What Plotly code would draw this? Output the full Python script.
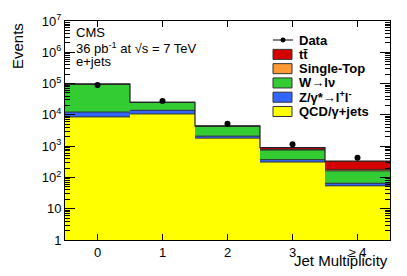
import plotly.graph_objects as go

# ---- data ----
categories = [0, 1, 2, 3, 4]
tick_labels = ["0", "1", "2", "3", "≥ 4"]
qcd = [8600, 10700, 1800, 310, 54]
zll = [3700, 3300, 290, 60, 11]
wlnu = [83700, 11000, 2200, 380, 97]
single_top = [50, 200, 70, 30, 15]
ttbar = [20, 100, 90, 120, 155]
data = [90000, 27500, 5200, 1150, 425]

legend_names = ["Data", "tt̄", "Single-Top", "W→lν", "Z/γ*→l<sup>+</sup>l<sup>-</sup>", "QCD/γ+jets"]
components = [
    ("QCD/γ+jets", qcd, "#ffff00"),
    ("Z/γ*→l+l-", zll, "#3366ff"),
    ("W→lν", wlnu, "#33cc33"),
    ("Single-Top", single_top, "#ff9933"),
    ("tt", ttbar, "#d40000"),
]

FONT = "Liberation Sans, Arial, Helvetica, sans-serif"
W, H = 407, 276
ML, MR, MT, MB = 65, 17, 13, 36
PW, PH = W - ML - MR, H - MT - MB


def px(x):
    return (x - ML) / PW


def py(y):
    return (H - MB - y) / PH


fig = go.Figure()

for name, vals, col in components:
    fig.add_trace(go.Bar(
        x=categories, y=vals, name=name, marker=dict(color=col, line=dict(width=0)),
        width=1.0, showlegend=False,
    ))

# outline segments at each cumulative level
cum = [0] * len(categories)
seg_x, seg_y = [], []
levels = []
for name, vals, col in components:
    cum = [a + b for a, b in zip(cum, vals)]
    levels.append(cum)
for lev in levels[:-1]:
    for c, v in zip(categories, lev):
        seg_x += [c - 0.5, c + 0.5, None]
        seg_y += [v, v, None]
fig.add_trace(go.Scatter(x=seg_x, y=seg_y, mode="lines", line=dict(color="#333333", width=1),
                         showlegend=False, hoverinfo="skip"))
top = levels[-1]
edges = [c - 0.5 for c in categories] + [categories[-1] + 0.5]
fig.add_trace(go.Scatter(x=edges, y=top + [top[-1]], mode="lines", line_shape="hv",
                         line=dict(color="#222222", width=1.2), showlegend=False, hoverinfo="skip"))

fig.add_trace(go.Scatter(x=categories, y=data, mode="markers",
                         marker=dict(color="black", size=6), showlegend=False))

# manual legend
row_y = [32.7, 47.6, 62.4, 77.2, 92.0, 106.8]
legend_cols = [None, "#d40000", "#ff9933", "#33cc33", "#3366ff", "#ffff00"]
shapes = []
annotations = []
for i, (nm, col) in enumerate(zip(legend_names, legend_cols)):
    yc = row_y[i]
    if col is None:
        shapes.append(dict(type="line", xref="paper", yref="paper", x0=px(273), x1=px(293),
                           y0=py(yc), y1=py(yc), line=dict(color="black", width=1)))
        shapes.append(dict(type="circle", xref="paper", yref="paper", x0=px(280.5), x1=px(285.5),
                           y0=py(yc + 2.5), y1=py(yc - 2.5), fillcolor="black", line=dict(width=0)))
    else:
        shapes.append(dict(type="rect", xref="paper", yref="paper", x0=px(273), x1=px(292),
                           y0=py(yc + 5.2), y1=py(yc - 5.2), fillcolor=col,
                           line=dict(color="#333333", width=1)))
    annotations.append(dict(x=px(296.5), y=py(yc), xref="paper", yref="paper", text="<b>%s</b>" % nm,
                            showarrow=False, xanchor="left", yanchor="middle",
                            font=dict(family=FONT, size=13, color="black")))

for txt, yc in [("CMS", 25), ("36 pb<sup>-1</sup> at √s = 7 TeV", 40.5), ("e+jets", 55)]:
    annotations.append(dict(x=px(74), y=py(yc), xref="paper", yref="paper", text=txt,
                            showarrow=False, xanchor="left", yanchor="middle",
                            font=dict(family=FONT, size=13, color="black")))

annotations.append(dict(x=px(390), y=py(261), xref="paper", yref="paper", text="Jet Multiplicity",
                        showarrow=False, xanchor="right", yanchor="middle",
                        font=dict(family=FONT, size=15, color="black")))
annotations.append(dict(x=px(17), y=py(13), xref="paper", yref="paper", text="Events",
                        showarrow=False, xanchor="center", yanchor="top", textangle=-90,
                        font=dict(family=FONT, size=15, color="black")))

ytick_vals = [10 ** n for n in range(8)]
ytick_text = ["1", "10"] + ["10<sup>%d</sup>" % n for n in range(2, 8)]
minor_vals = [k * 10 ** n for n in range(7) for k in range(2, 10)]

fig.update_layout(
    width=W, height=H,
    margin=dict(l=ML, r=MR, t=MT, b=MB),
    paper_bgcolor="white", plot_bgcolor="white",
    barmode="stack", bargap=0,
    font=dict(family=FONT, size=13, color="black"),
    shapes=shapes, annotations=annotations,
    xaxis=dict(range=[-0.5, 4.5], tickvals=categories, ticktext=tick_labels,
               ticks="inside", ticklen=6, tickcolor="black", showline=True, linecolor="black",
               linewidth=1, mirror="ticks", showgrid=False, zeroline=False,
               tickfont=dict(family=FONT, size=13)),
    yaxis=dict(type="log", range=[0, 7], tickvals=ytick_vals, ticktext=ytick_text,
               ticks="inside", ticklen=10, tickcolor="black", showline=True, linecolor="black",
               linewidth=1, mirror="ticks", showgrid=False, zeroline=False,
               tickfont=dict(family=FONT, size=13),
               minor=dict(tickmode="array", tickvals=minor_vals, ticks="inside", ticklen=5,
                          tickcolor="black", showgrid=False)),
)
fig.update_traces(cliponaxis=True, selector=dict(type="scatter"))

fig.write_html("out.html", config={"displayModeBar": False, "staticPlot": True},
               post_script="document.body.style.margin='0';document.body.style.overflow='hidden';")
